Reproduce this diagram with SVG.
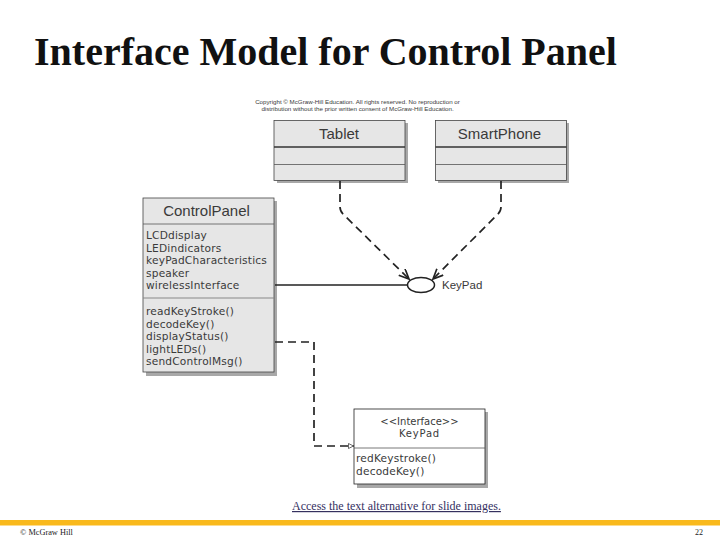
<svg xmlns="http://www.w3.org/2000/svg" width="720" height="540" viewBox="0 0 720 540">
<style>
.s{font-family:"Liberation Sans",Arial,sans-serif;fill:#3a3a3a}
.d{font-family:"DejaVu Sans",Verdana,sans-serif;fill:#3a3a3a}
.t{font-family:"Liberation Serif","Times New Roman",serif}
.box{fill:#e6e6e6;stroke:#444;stroke-width:0.8}
.shadow{fill:#a8a8a8}
.div{stroke:#555;stroke-width:0.8;fill:none}
.dash{stroke:#222;stroke-width:1.7;fill:none;stroke-dasharray:8 5}
.m{font-size:10.6px;letter-spacing:0.2px}
</style>
<defs>
<marker id="open" markerWidth="12" markerHeight="12" refX="10" refY="5" orient="auto" markerUnits="userSpaceOnUse"><path d="M0,0.500 L10,5 L0,9.500" fill="none" stroke="#222" stroke-width="1.700"/></marker>
<marker id="tri" markerWidth="8" markerHeight="8" refX="6" refY="3" orient="auto" markerUnits="userSpaceOnUse"><path d="M0.500,0.500 L5.500,3 L0.500,5.500 Z" fill="#fff" stroke="#444" stroke-width="0.800"/></marker>
</defs>
<rect width="720" height="540" fill="#fff"/>
<text class="t" x="34" y="64.500" font-size="40" font-weight="bold" fill="#111">Interface Model for Control Panel</text>
<text class="s" x="357.500" y="104" font-size="6.200" text-anchor="middle">Copyright © McGraw-Hill Education. All rights reserved. No reproduction or</text>
<text class="s" x="357.500" y="111" font-size="6.200" text-anchor="middle">distribution without the prior written consent of McGraw-Hill Education.</text>

<g id="tablet">
<rect class="shadow" x="277" y="123" width="131" height="60"/>
<rect class="box" x="274" y="120.500" width="131" height="60"/>
<path d="M274,147 H405" stroke="#333" stroke-width="1.300"/>
<path class="div" d="M274,164.500 H405"/>
<text class="s" x="339" y="139" font-size="15" text-anchor="middle">Tablet</text>
</g>
<g id="smartphone">
<rect class="shadow" x="438" y="123" width="131" height="60"/>
<rect class="box" x="435.500" y="120.500" width="131" height="60"/>
<path d="M435.500,147 H566.500" stroke="#333" stroke-width="1.300"/>
<path class="div" d="M435.500,164.500 H566.500"/>
<text class="s" x="499.500" y="139" font-size="15" text-anchor="middle">SmartPhone</text>
</g>
<g id="controlpanel">
<rect class="shadow" x="146" y="201" width="131" height="175"/>
<rect class="box" x="143" y="198" width="131" height="174"/>
<path class="div" d="M143,224 H274"/>
<path d="M143,298 H274" stroke="#888" stroke-width="1.200"/>
<text class="s" x="206.500" y="216" font-size="15" text-anchor="middle">ControlPanel</text>
<text class="d m" x="146" y="239">LCDdisplay</text>
<text class="d m" x="146" y="251.500">LEDindicators</text>
<text class="d m" x="146" y="264">keyPadCharacteristics</text>
<text class="d m" x="146" y="276.500">speaker</text>
<text class="d m" x="146" y="289">wirelessInterface</text>
<text class="d m" x="146" y="315">readKeyStroke()</text>
<text class="d m" x="146" y="327.500">decodeKey()</text>
<text class="d m" x="146" y="340">displayStatus()</text>
<text class="d m" x="146" y="352.500">lightLEDs()</text>
<text class="d m" x="146" y="365">sendControlMsg()</text>
</g>
<g id="keypad-lollipop">
<ellipse cx="421" cy="285" rx="13.500" ry="7.500" fill="#fff" stroke="#222" stroke-width="1.500"/>
<text class="s" x="442" y="289" font-size="11.500">KeyPad</text>
</g>
<g id="keypad-interface">
<rect class="shadow" x="357" y="412" width="131" height="76"/>
<rect x="354" y="409" width="131" height="75" fill="#fff" stroke="#222" stroke-width="0.800"/>
<path class="div" d="M354,448 H485"/>
<text class="d" x="419.500" y="425" font-size="10" text-anchor="middle">&lt;&lt;Interface&gt;&gt;</text>
<text class="d" x="419.500" y="437" font-size="10" letter-spacing="0.800" text-anchor="middle">KeyPad</text>
<text class="d m" x="356" y="462">redKeystroke()</text>
<text class="d m" x="356" y="475">decodeKey()</text>
</g>
<g id="connectors">
<path class="dash" d="M340,181 V207 Q340,211 343,214 L409,279" marker-end="url(#open)"/>
<path class="dash" d="M501,181 V207 Q501,211 498,214 L433,279" marker-end="url(#open)"/>
<path d="M275,285 H407" stroke="#222" stroke-width="1.300" fill="none"/>
<path class="dash" d="M275,342 H314 V446 H354" marker-end="url(#tri)"/>
</g>
<g id="footer">
<text class="t" x="292" y="510" font-size="12" fill="#35305f" text-decoration="underline">Access the text alternative for slide images.</text>
<rect x="0" y="520" width="720" height="5.500" fill="#f9b91c"/>
<text class="t" x="20" y="535" font-size="8.300" fill="#222">© McGraw Hill</text>
<text class="t" x="695" y="535" font-size="8" fill="#222">22</text>
</g>
</svg>
